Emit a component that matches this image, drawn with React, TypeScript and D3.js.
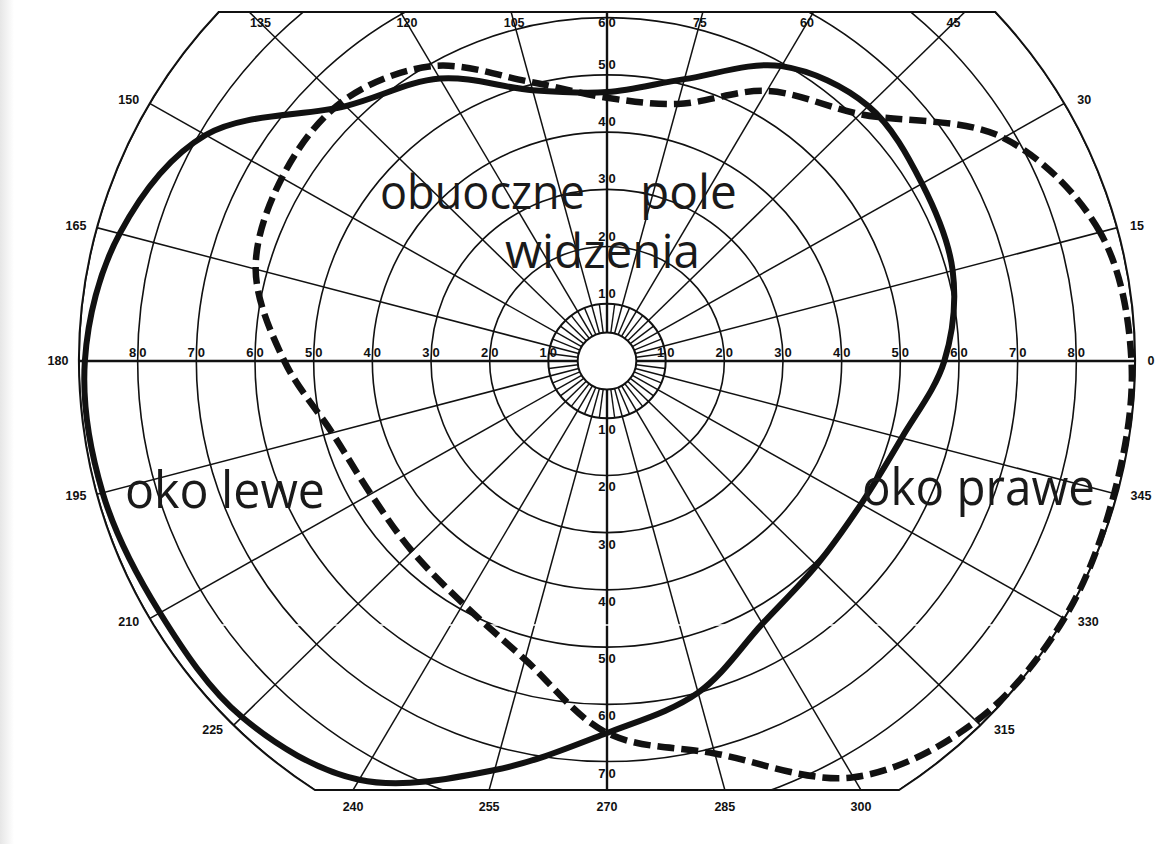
import React from 'react';
import * as d3 from 'd3';

// ---- data ----
const W = 1169;
const H = 844;

// isopter angles (degrees, counter-clockwise from 0 = right)
const angles = [0, 15, 30, 45, 60, 75, 90, 105, 120, 135, 150, 165, 180, 195, 210, 225, 240, 255, 270, 285, 300, 315, 330, 345];
// oko lewe (solid line) – field extent in degrees
const leftEye = [57.5, 61, 62, 63, 59.5, 51, 47, 49, 57, 63, 79, 86, 89, 89, 88, 88, 84.5, 74, 65, 60, 53, 50.5, 50, 52];
// oko prawe (dashed line) – field extent in degrees
const rightEye = [89.4, 87, 78, 61, 54.5, 46.5, 46, 50.5, 59.5, 64, 64, 62, 55, 48.5, 46.5, 47, 49, 54, 65, 71, 84, 89, 90, 89.5];

// grid
const circleDegrees = [5, 10, 20, 30, 40, 50, 60, 70, 80, 90];
const spokeAngles = [0, 15, 30, 45, 60, 75, 90, 105, 120, 135, 150, 165, 180, 195, 210, 225, 240, 255, 270, 285, 300, 315, 330, 345];
const innerSpokeAngles = [7.5, 22.5, 37.5, 52.5, 67.5, 82.5, 97.5, 112.5, 127.5, 142.5, 157.5, 172.5, 187.5, 202.5, 217.5, 232.5, 247.5, 262.5, 277.5, 292.5, 307.5, 322.5, 337.5, 352.5];
const angleLabels = ['0', '15', '30', '45', '60', '75', '', '105', '120', '135', '150', '165', '180', '195', '210', '225', '240', '255', '270', '285', '300', '315', '330', '345'];
const axisLabelDegrees = [10, 20, 30, 40, 50, 60, 70, 80];
const upLabelDegrees = [10, 20, 30, 40, 50, 60];
const downLabelDegrees = [10, 20, 30, 40, 50, 60, 70];

// ---- geometry ----
const CX = 607;
const CY = 361;
const rx = d3.scaleLinear().domain([0, 90]).range([0, 528]);
const ry = d3.scaleLinear().domain([0, 90]).range([0, 515]);
const TOP = 12;
const BOTTOM = 790;

const rad = (a: number) => (a * Math.PI) / 180;
const px = (a: number, r: number) => CX + rx(r) * Math.cos(rad(a));
const py = (a: number, r: number) => CY - ry(r) * Math.sin(rad(a));

// radius (deg) where spoke leaves the chart
const hitR = (a: number) => {
  const s = Math.sin(rad(a));
  let r = 90;
  if (s > 1e-6) r = Math.min(r, ry.invert(CY - TOP) / s);
  if (s < -1e-6) r = Math.min(r, ry.invert(BOTTOM - CY) / -s);
  return r;
};

const R90x = rx(90);
const R90y = ry(90);
const xt = R90x * Math.sqrt(1 - Math.pow((CY - TOP) / R90y, 2));
const xb = R90x * Math.sqrt(1 - Math.pow((BOTTOM - CY) / R90y, 2));
const borderPath = `M${CX - xt},${TOP} L${CX + xt},${TOP} A${R90x},${R90y} 0 0 1 ${CX + xb},${BOTTOM} L${CX - xb},${BOTTOM} A${R90x},${R90y} 0 0 1 ${CX - xt},${TOP} Z`;

const curve = d3
  .line<[number, number]>()
  .x((d) => px(d[0], d[1]))
  .y((d) => py(d[0], d[1]))
  .curve(d3.curveCatmullRomClosed.alpha(0.5));

const labelFont = '"Liberation Sans", Arial, sans-serif';
const bigFont = '"Open Sans", "Noto Sans", sans-serif';

function SplitLabel({ x, y, text }: { x: number; y: number; text: string }) {
  return (
    <g fontFamily={labelFont} fontWeight="bold" fontSize={13} fill="#111">
      <text x={x - 1.5} y={y} textAnchor="end">{text[0]}</text>
      <text x={x + 1.5} y={y} textAnchor="start">{text.slice(1)}</text>
    </g>
  );
}

export default function App() {
  const leftPts = angles.map((a, i) => [a, leftEye[i]] as [number, number]);
  const rightPts = angles.map((a, i) => [a, rightEye[i]] as [number, number]);

  const labelNodes = spokeAngles.map((a, i) => {
    const t = angleLabels[i];
    if (!t) return null;
    const s = Math.sin(rad(a));
    const c = Math.cos(rad(a));
    const r = hitR(a);
    const hx = px(a, r);
    const hy = py(a, r);
    let x: number;
    let y: number;
    if (r < 89.9 && s > 0) {
      // top edge: inside, just under the line
      const rr = ry.invert(CY - 23) / s;
      x = px(a, rr);
      y = 27;
    } else if (r < 89.9 && s < 0) {
      x = hx;
      y = 811;
    } else {
      const half = t.length * 4;
      const right = Math.abs(c) < 1e-6 || c > 0;
      x = hx + (right ? 1 : -1) * (half + (right ? 12 : 9));
      y = hy - s * 7 + 4;
    }
    return (
      <text key={'al' + a} x={x} y={y} textAnchor="middle" fontFamily={labelFont} fontWeight="bold" fontSize={12.5} fill="#111">
        {t}
      </text>
    );
  });

  return (
    <svg width={W} height={H} viewBox={`0 0 ${W} ${H}`} style={{ position: 'absolute', left: 0, top: 0, background: '#fff' }}>
      <defs>
        <clipPath id="chartClip">
          <path d={borderPath} />
        </clipPath>
        <linearGradient id="edge" x1="0" x2="1" y1="0" y2="0">
          <stop offset="0" stopColor="#e6e6e6" />
          <stop offset="1" stopColor="#ffffff" />
        </linearGradient>
      </defs>
      <rect x={0} y={0} width={W} height={H} fill="#fff" />
      <rect x={0} y={0} width={14} height={H} fill="url(#edge)" />
      <g clipPath="url(#chartClip)" stroke="#111" fill="none">
        {circleDegrees.map((d) => (
          <ellipse key={'c' + d} cx={CX} cy={CY} rx={rx(d)} ry={ry(d)} strokeWidth={d === 5 || d === 10 ? 2 : 1.6} />
        ))}
        {spokeAngles.map((a) => (
          <line key={'s' + a} x1={px(a, 5)} y1={py(a, 5)} x2={px(a, 95)} y2={py(a, 95)} strokeWidth={a % 90 === 0 ? 2.4 : 1.5} />
        ))}
        {innerSpokeAngles.map((a) => (
          <line key={'is' + a} x1={px(a, 5)} y1={py(a, 5)} x2={px(a, 10)} y2={py(a, 10)} strokeWidth={1.4} />
        ))}
        {/* faint scan break across the lower grid */}
        <line x1={100} y1={625} x2={1100} y2={625} stroke="#fff" strokeWidth={1.6} />
      </g>
      <path d={borderPath} fill="none" stroke="#111" strokeWidth={2} />

      {/* horizontal axis labels */}
      {axisLabelDegrees.map((d) => (
        <g key={'h' + d}>
          <SplitLabel x={CX + rx(d)} y={357} text={String(d)} />
          <SplitLabel x={CX - rx(d)} y={357} text={String(d)} />
        </g>
      ))}
      {upLabelDegrees.map((d) => (
        <SplitLabel key={'u' + d} x={CX} y={Math.max(CY - ry(d) - 6, 27)} text={String(d)} />
      ))}
      {downLabelDegrees.map((d) => (
        <SplitLabel key={'d' + d} x={CX} y={CY + ry(d) + 16} text={String(d)} />
      ))}
      {labelNodes}

      {/* isopters */}
      <path d={curve(leftPts) || ''} fill="none" stroke="#111" strokeWidth={6} strokeLinejoin="round" />
      <path d={curve(rightPts) || ''} fill="none" stroke="#111" strokeWidth={6.5} strokeDasharray="17 7" />

      {/* annotations */}
      <g fontFamily={bigFont} fill="#1a1a1a" fontWeight={400}>
        <text x={380} y={209} fontSize={47} textLength={205} lengthAdjust="spacingAndGlyphs">obuoczne</text>
        <text x={640} y={209} fontSize={47} textLength={97} lengthAdjust="spacingAndGlyphs">pole</text>
        <text x={505} y={268} fontSize={47} textLength={195} lengthAdjust="spacingAndGlyphs">widzenia</text>
        <text x={125} y={508} fontSize={52} textLength={200} lengthAdjust="spacingAndGlyphs">oko lewe</text>
        <text x={862} y={505} fontSize={52} textLength={233} lengthAdjust="spacingAndGlyphs">oko prawe</text>
      </g>
    </svg>
  );
}
